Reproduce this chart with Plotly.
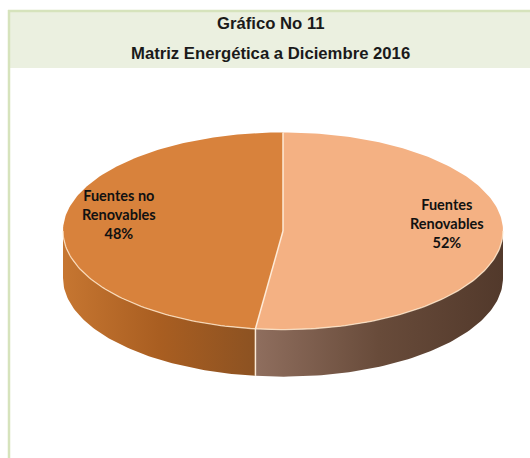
import numpy as np
import plotly.graph_objects as go

# --- data -------------------------------------------------------------
categories = ["Fuentes Renovables", "Fuentes no Renovables"]
label_lines = ["Fuentes<br>Renovables", "Fuentes no<br>Renovables"]
values = [52, 48]

title_line1 = "Gráfico No 11"
title_line2 = "Matriz Energética a Diciembre 2016"

# --- style ------------------------------------------------------------
top_colors = ["#F4B183", "#D8823C"]
side_gradients = [["#8F6E5E", "#684B3A", "#52392B"],
                  ["#C67631", "#A95E21", "#8C5222"]]
edge_color = "rgba(255,238,220,0.95)"

W, H = 530, 458
PX = 220            # pixels per unit of pie radius
CX, CY = 283, 231   # pie centre in pixels
RY = 0.448          # vertical squash of the tilted pie
DEPTH = 0.214       # thickness of the pie
LABEL_R = 0.745


def pt(theta_deg, drop=0.0):
    t = np.radians(theta_deg)
    return np.sin(t), RY * np.cos(t) - drop


fig = go.Figure()

total = sum(values)
bounds = []
start = 0.0
for v in values:
    end = start + 360.0 * v / total
    bounds.append((start, end))
    start = end

# side walls (only the front half of the rim is visible)
for (a, b), grad in zip(bounds, side_gradients):
    s0, s1 = max(a, 90.0), min(b, 270.0)
    if s1 <= s0:
        continue
    th = np.linspace(s0, s1, 80)
    xt, yt = pt(th)
    xb, yb = pt(th[::-1], DEPTH)
    xs = np.concatenate([xt, xb, xt[:1]])
    ys = np.concatenate([yt, yb, yt[:1]])
    fig.add_trace(go.Scatter(
        x=xs, y=ys, mode="lines", fill="toself", line=dict(width=0),
        fillgradient=dict(type="horizontal",
                          colorscale=[[0, grad[0]], [0.5, grad[1]], [1, grad[2]]],
                          start=float(xs.min()), stop=float(xs.max())),
        hoverinfo="skip", showlegend=False))

# top faces
for (a, b), col, name in zip(bounds, top_colors, categories):
    th = np.linspace(a, b, 160)
    x, y = pt(th)
    fig.add_trace(go.Scatter(
        x=np.concatenate([[0], x, [0]]), y=np.concatenate([[0], y, [0]]),
        mode="lines", fill="toself", fillcolor=col, line=dict(width=0),
        name=name, hoverinfo="name", showlegend=False))

# light rim along the front edge of the top face
th = np.linspace(90, 270, 160)
x, y = pt(th)
fig.add_trace(go.Scatter(x=x, y=y, mode="lines",
                         line=dict(color="rgba(255,232,205,0.8)", width=1.3),
                         hoverinfo="skip", showlegend=False))

# slice separators on the top face and down the wall
for a, _ in bounds:
    x1, y1 = pt(a)
    fig.add_trace(go.Scatter(x=[0, x1], y=[0, y1], mode="lines",
                             line=dict(color=edge_color, width=1.5),
                             hoverinfo="skip", showlegend=False))
    if 90 <= a <= 270:
        x2, y2 = pt(a, DEPTH)
        fig.add_trace(go.Scatter(x=[x1, x2], y=[y1, y2], mode="lines",
                                 line=dict(color=edge_color, width=1.5),
                                 hoverinfo="skip", showlegend=False))

# data labels
for (a, b), lines, v in zip(bounds, label_lines, values):
    mid = (a + b) / 2
    lx, ly = pt(mid)
    pct = round(100 * v / total)
    fig.add_annotation(x=lx * LABEL_R, y=ly * LABEL_R, xref="x", yref="y",
                       text=f"<b>{lines}<br>{pct}%</b>", showarrow=False,
                       yshift=12, align="center",
                       font=dict(family="Lato, Carlito, Calibri, sans-serif",
                                 size=14.5, color="#111111"))

# title band
def py(p):
    return 1 - p / H

def pxx(p):
    return p / W

fig.add_shape(type="rect", xref="paper", yref="paper",
              x0=pxx(8), x1=1.01, y0=py(68), y1=py(10),
              fillcolor="#EBF0E0", line=dict(width=0), layer="below")
fig.add_shape(type="line", xref="paper", yref="paper",
              x0=pxx(8), x1=1.01, y0=py(11), y1=py(11),
              line=dict(color="#D6E3BC", width=2.5))
fig.add_shape(type="line", xref="paper", yref="paper",
              x0=pxx(9), x1=pxx(9), y0=py(10), y1=-0.01,
              line=dict(color="#D6E3BC", width=2.5))

title_font = dict(family="Liberation Sans, Arial, sans-serif",
                  size=16.7, color="#1A1A1A")
fig.add_annotation(x=pxx(271), y=py(23.5), xref="paper", yref="paper",
                   text=f"<b>{title_line1}</b>", showarrow=False,
                   font=title_font, xanchor="center", yanchor="middle")
fig.add_annotation(x=pxx(270), y=py(53), xref="paper", yref="paper",
                   text=f"<b>{title_line2}</b>", showarrow=False,
                   font=title_font, xanchor="center", yanchor="middle")

fig.update_layout(
    width=W, height=H, autosize=False,
    margin=dict(l=0, r=0, t=0, b=0),
    paper_bgcolor="white", plot_bgcolor="rgba(0,0,0,0)",
    xaxis=dict(range=[-CX / PX, (W - CX) / PX], visible=False, fixedrange=True),
    yaxis=dict(range=[-(H - CY) / PX, CY / PX], visible=False, fixedrange=True),
)

fig.write_html("out.html")
